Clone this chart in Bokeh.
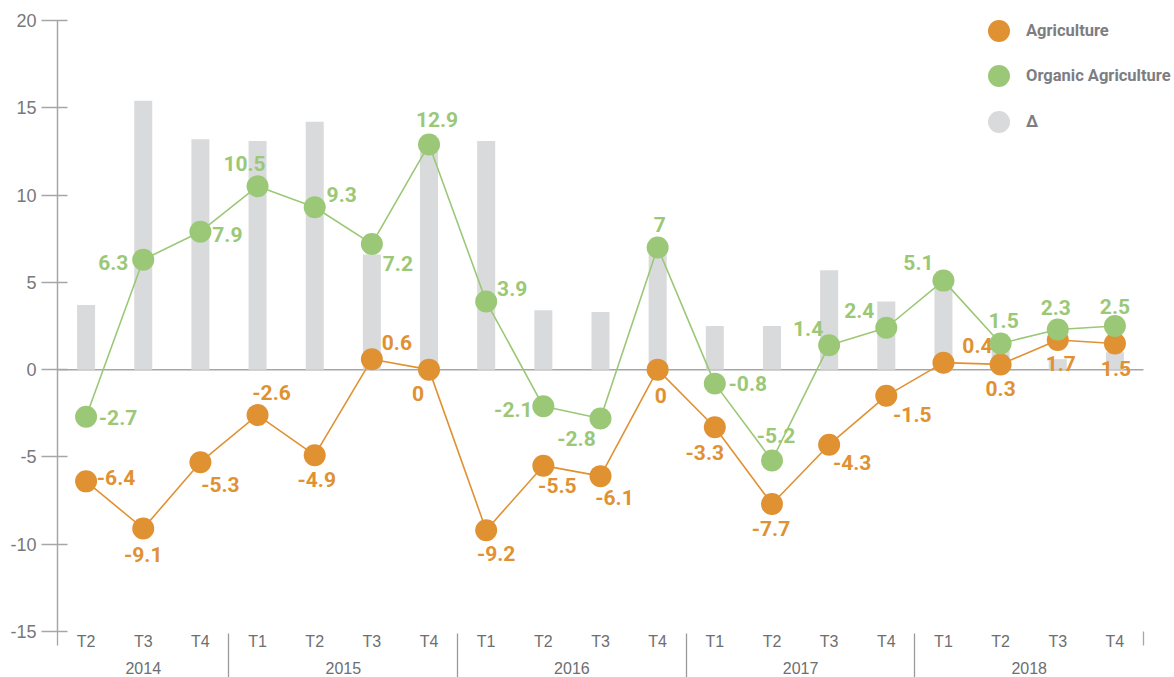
from bokeh.plotting import figure
from bokeh.models import (ColumnDataSource, Range1d, FixedTicker, LinearAxis,
                          Legend, LegendItem)
from bokeh.core.properties import value
from bokeh.embed import file_html
from bokeh.resources import INLINE

# ---------------- data ----------------
years = ["2014", "2014", "2014",
         "2015", "2015", "2015", "2015",
         "2016", "2016", "2016", "2016",
         "2017", "2017", "2017", "2017",
         "2018", "2018", "2018", "2018"]
quarters = ["T2", "T3", "T4",
            "T1", "T2", "T3", "T4",
            "T1", "T2", "T3", "T4",
            "T1", "T2", "T3", "T4",
            "T1", "T2", "T3", "T4"]
agriculture = [-6.4, -9.1, -5.3, -2.6, -4.9, 0.6, 0, -9.2, -5.5, -6.1, 0,
               -3.3, -7.7, -4.3, -1.5, 0.4, 0.3, 1.7, 1.5]
organic = [-2.7, 6.3, 7.9, 10.5, 9.3, 7.2, 12.9, 3.9, -2.1, -2.8, 7,
           -0.8, -5.2, 1.4, 2.4, 5.1, 1.5, 2.3, 2.5]
delta = [3.7, 15.4, 13.2, 13.1, 14.2, 6.6, 12.9, 13.1, 3.4, 3.3, 7.0,
         2.5, 2.5, 5.7, 3.9, 4.7, 1.2, 0.6, 1.0]
y_ticks = [-15, -10, -5, 0, 5, 10, 15, 20]
series_names = ["Agriculture", "Organic Agriculture", "Δ"]

# ---------------- label placement (screen px offsets, style only) ----------------
agri_dx = [30, 0, 20, 14, 2, 25, -11, 10, 14, 14, 3, -10, -1, 23, 26, 34, 0, 3, 1]
agri_dy = [-4, 26, 22, -23, 24, -17, 24, 23, 20, 21, 26, 25, 24, 18, 19, -17, 24, 24, 25]
org_dx = [32, -30, 27, -13, 27, 26, 8, 26, -30, -24, 2, 33, 4, -21, -27, -25, 3, -2, 0]
org_dy = [1, 3, 3, -23, -13, 20, -25, -13, 3, 20, -23, 0, -25, -17, -17, -18, -23, -22, -20]

ORANGE = "#e09132"
GREEN = "#9bc877"
BAR = "#d9dadc"
AXIS = "#a6a6a6"
TXT = "#6d6e71"
LABEL_FONT = "Roboto"

W, H = 1174, 677
LEFT, TOP, BOTTOM = 57, 20, 46          # frame borders in px
CAT_PX = 1086                           # pixel width covered by the categories

N = len(quarters)
xs = [i + 0.5 for i in range(N)]
x_end = N * (W - LEFT) / CAT_PX

# year groups
year_names = []
for y in years:
    if y not in year_names:
        year_names.append(y)
year_centers = []
year_bounds = []
for yn in year_names:
    idx = [i for i, y in enumerate(years) if y == yn]
    year_centers.append((idx[0] + idx[-1] + 1) / 2)
    year_bounds.append(idx[-1] + 1)
inner_bounds = year_bounds[:-1]

def fmt(v):
    return "%g" % v

src = ColumnDataSource(dict(
    x=xs, agri=agriculture, org=organic, delta=delta,
    agri_lbl=[fmt(v) for v in agriculture], org_lbl=[fmt(v) for v in organic],
    adx=agri_dx, ady=agri_dy, odx=org_dx, ody=org_dy,
))

p = figure(x_range=Range1d(0, x_end), y_range=Range1d(-15, 20), width=W, height=H,
           output_backend="svg", toolbar_location=None, x_axis_type=None,
           min_border_left=LEFT, min_border_right=0, min_border_top=TOP,
           min_border_bottom=BOTTOM)
p.outline_line_color = None
p.xgrid.visible = False
p.ygrid.visible = False

# y axis
ya = p.yaxis[0]
ya.ticker = FixedTicker(ticks=y_ticks)
ya.major_label_overrides = {t: str(t) for t in y_ticks}
ya.axis_line_color = AXIS
ya.axis_line_width = 1.5
ya.major_tick_line_color = AXIS
ya.major_tick_line_width = 1.5
ya.major_tick_out = 16
ya.major_tick_in = 10
ya.minor_tick_line_color = None
ya.major_label_standoff = 5
ya.major_label_text_font = "Liberation Sans"
ya.major_label_text_font_size = "18px"
ya.major_label_text_color = "#77787b"

def plain_axis(ticks, minor, labels, font_size, standoff, minor_out, minor_in, minor_color):
    ax = LinearAxis(ticker=FixedTicker(ticks=ticks, minor_ticks=minor))
    ax.axis_line_color = None
    ax.major_tick_line_color = None
    ax.major_tick_out = 0
    ax.major_tick_in = 0
    ax.minor_tick_line_color = minor_color
    ax.minor_tick_line_width = 1.3
    ax.minor_tick_out = minor_out
    ax.minor_tick_in = minor_in
    # minor ticks count in the axis extent; pull the labels back up past them
    ax.major_label_standoff = standoff - minor_out
    ax.major_label_text_font = "Liberation Sans"
    ax.major_label_text_font_size = font_size
    ax.major_label_text_color = TXT
    ax.major_label_overrides = {t: l for t, l in zip(ticks, labels)}
    return ax

# quarter labels (short end marks of the category axis as minor ticks)
p.add_layout(plain_axis(xs, [0, N], quarters, "16px", 1, 14, 0, AXIS), "below")
# year labels, with year separators drawn as minor ticks reaching up through the quarter row
p.add_layout(plain_axis(year_centers, inner_bounds, year_names, "16px", 9, 30, 19, "#9a9a9a"),
             "below")

# zero line across the categories
p.segment(x0=[0], x1=[N], y0=[0], y1=[0], line_color=AXIS, line_width=1.5)

# bars
p.vbar(x="x", top="delta", bottom=0, width=0.315, source=src, fill_color=BAR, line_color=None)

# value labels
p.text(x="x", y="agri", text="agri_lbl", source=src, x_offset="adx", y_offset="ady",
       text_align="center", text_baseline="middle", text_color=ORANGE,
       text_font=value(LABEL_FONT), text_font_style="bold", text_font_size="21px")
p.text(x="x", y="org", text="org_lbl", source=src, x_offset="odx", y_offset="ody",
       text_align="center", text_baseline="middle", text_color=GREEN,
       text_font=value(LABEL_FONT), text_font_style="bold", text_font_size="21px")

# lines and markers
p.line(x="x", y="agri", source=src, line_color=ORANGE, line_width=1.6)
p.line(x="x", y="org", source=src, line_color=GREEN, line_width=1.6)
r_agri = p.scatter(x="x", y="agri", source=src, size=22, fill_color=ORANGE, line_color=None)
r_org = p.scatter(x="x", y="org", source=src, size=22, fill_color=GREEN, line_color=None)
# invisible (size 0) circle renderer used as legend swatch for the delta bars
r_delta = p.scatter(x="x", y="delta", source=src, size=0, fill_color=BAR, line_color=None)

# legend: one entry per Legend so each can sit exactly where the reference has it
legend_vy = [573, 528, 482]
for name, rend, vy in zip(series_names, [r_agri, r_org, r_delta], legend_vy):
    lg = Legend(items=[LegendItem(label=name, renderers=[rend])],
                location=(914, vy), orientation="vertical",
                glyph_width=55, glyph_height=55, padding=0, margin=0, spacing=0,
                label_standoff=-4, label_text_font="Roboto",
                label_text_font_style="bold", label_text_font_size="16.5px",
                label_text_color="#7d7e82", border_line_color=None,
                background_fill_alpha=0)
    p.add_layout(lg)

open("out.html", "w").write(file_html(p, INLINE))
